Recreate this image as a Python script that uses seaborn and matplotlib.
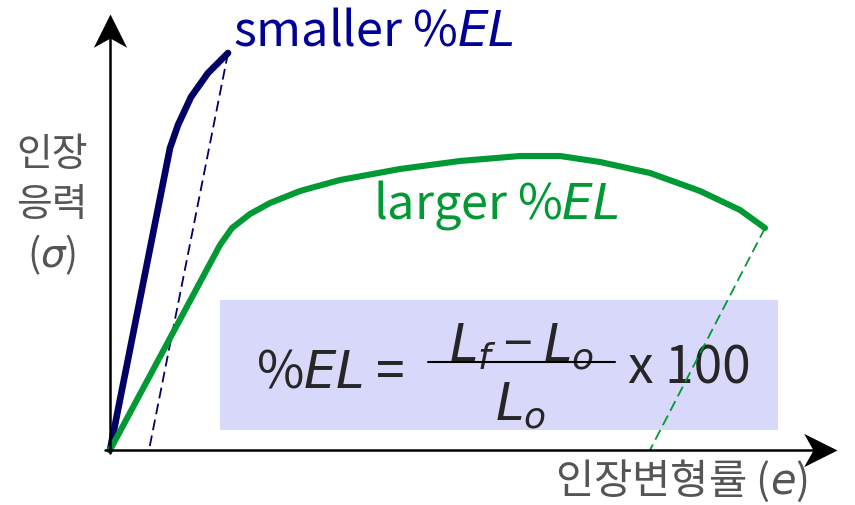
import matplotlib
matplotlib.use("Agg")
import matplotlib.pyplot as plt
import seaborn as sns
from matplotlib.patches import Rectangle
from matplotlib.path import Path

# 곡선 데이터: 원점(0,0) 기준, 변형률 / 응력 (임의 단위)
brittle_strain = [0, 60, 68, 81, 98, 118]
brittle_stress = [0, 302, 325, 353, 377, 397]
brittle_unload_strain = [118, 39]
brittle_unload_stress = [397, 0]

ductile_strain = [0, 110, 122, 140, 160, 190, 230, 290, 350, 410, 450, 490, 540, 590, 630, 655]
ductile_stress = [0, 205, 222, 236, 247, 259, 270, 281, 289, 294, 294, 288, 277, 259, 240, 222]
ductile_unload_strain = [655, 540]
ductile_unload_stress = [222, 0]

# 라벨
label_small = "smaller %$EL$"
label_large = "larger %$EL$"
y_label_lines = ["인장", "응력", "($\\sigma$)"]
x_label = "인장변형률 ($e$)"

navy = "#000066"
navy_text = "#000099"
green = "#009933"
gray = "#555555"

sns.set_theme(style="white")
plt.rcParams["font.family"] = ["Noto Sans CJK KR", "DejaVu Sans"]
plt.rcParams["mathtext.fontset"] = "dejavusans"

fig = plt.figure(figsize=(8.55, 5.05), dpi=100)
ax = fig.add_axes([0, 0, 1, 1])
ax.set_xlim(-110, 745)
ax.set_ylim(-55, 450)
ax.axis("off")

# 공식 박스 (배경)
ax.add_patch(Rectangle((110, 20), 558, 130, facecolor="#D8D8FA", edgecolor="none", zorder=1))

# 곡선
sns.lineplot(x=brittle_strain, y=brittle_stress, sort=False, color=navy, lw=4.8, ax=ax, zorder=3)
sns.lineplot(x=brittle_unload_strain, y=brittle_unload_stress, sort=False, color=navy,
             lw=1.3, linestyle=(0, (6, 3)), ax=ax, zorder=3)
sns.lineplot(x=ductile_strain, y=ductile_stress, sort=False, color=green, lw=4.4, ax=ax, zorder=3)
sns.lineplot(x=ductile_unload_strain, y=ductile_unload_stress, sort=False, color=green,
             lw=1.3, linestyle=(0, (6, 3)), ax=ax, zorder=3)

# 축 + 화살촉 (stealth 모양)
head_up = Path([(0, 0), (-0.5, -1), (0, -0.72), (0.5, -1), (0, 0)])
head_right = Path([(0, 0), (-1, 0.5), (-0.72, 0), (-1, -0.5), (0, 0)])
ax.plot([0, 0], [-3, 420], color="black", lw=1.8, zorder=4)
ax.plot([-5, 712], [0, 0], color="black", lw=1.8, zorder=4)
ax.plot([0], [436], marker=head_up, ms=48, color="black", mew=0, zorder=4)
ax.plot([727], [0], marker=head_right, ms=48, color="black", mew=0, zorder=4)

# 곡선 라벨
ax.text(123, 405, label_small, color=navy_text, fontsize=35, ha="left", va="baseline")
ax.text(263, 232, label_large, color=green, fontsize=35, ha="left", va="baseline")

# 축 라벨
for i, line in enumerate(y_label_lines):
    ax.text(-58, 295 - i * 50, line, color=gray, fontsize=28, ha="center", va="center")
ax.text(445, -31, x_label, color=gray, fontsize=30, ha="left", va="center")

# 공식
fs = 37
ax.text(146, 63, "%$EL$ =", fontsize=fs, ha="left", va="baseline", zorder=2)
ax.text(412, 89, "$L_f$ − $L_o$", fontsize=fs, ha="center", va="baseline", zorder=2)
ax.plot([318, 505], [88, 88], color="black", lw=1.5, zorder=2)
ax.text(410, 30, "$L_o$", fontsize=fs, ha="center", va="baseline", zorder=2)
ax.text(518, 66, "x 100", fontsize=fs, ha="left", va="baseline", zorder=2)

fig.savefig("out.png", dpi=100)
